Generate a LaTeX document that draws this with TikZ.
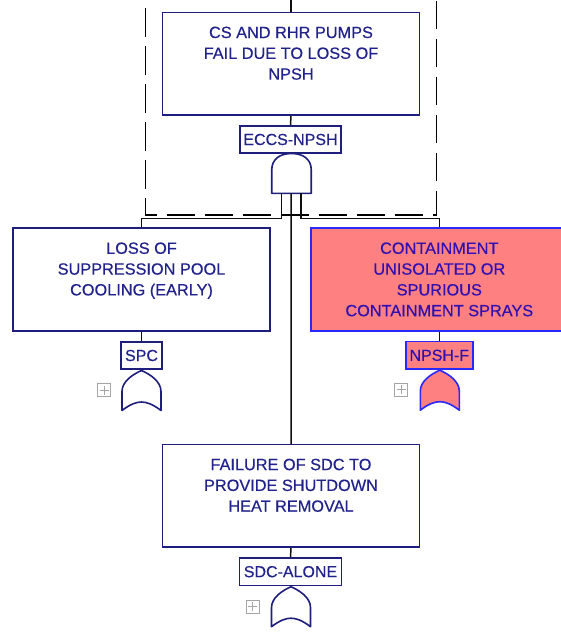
\documentclass[tikz,border=0pt]{standalone}
\usepackage{fontspec}
\setmainfont{Liberation Sans}[FakeBold=0.35]
\usetikzlibrary{calc}

\definecolor{navy}{RGB}{30,30,125}
\definecolor{navytext}{RGB}{34,34,140}
\definecolor{salmon}{RGB}{255,128,128}
\definecolor{brightblue}{RGB}{40,40,255}
\definecolor{violettext}{RGB}{48,16,176}
\definecolor{wirecol}{RGB}{15,15,15}
\definecolor{plusgray}{RGB}{165,165,165}

\tikzset{
  eventbox/.style={draw=navy, line width=1.6pt, fill=white,
    minimum width=257pt, minimum height=102.5pt, inner sep=0pt},
  hotbox/.style={eventbox, draw=brightblue, fill=salmon},
  eventtext/.style={anchor=north, align=center, inner sep=0pt, text=navytext,
    font=\fontsize{16.3}{20.8}\selectfont},
  hottext/.style={eventtext, text=violettext},
  tagbox/.style={draw=navy, line width=1.6pt, fill=white, minimum height=27.5pt,
    inner sep=0pt, text=navytext, font=\fontsize{16}{19}\selectfont},
  hottag/.style={tagbox, draw=brightblue, fill=salmon, text=violettext},
  wire/.style={draw=wirecol, line width=1.5pt},
  gatepath/.style={draw=navy, line width=1.6pt, fill=white, line join=round},
  hotgate/.style={gatepath, draw=brightblue, fill=salmon},
  frame/.style={draw=black, line width=1.4pt, dash pattern=on 28.5pt off 9.5pt,
    dash phase=20pt},
  plusbox/.style={draw=plusgray, line width=0.9pt, minimum size=13pt, inner sep=0pt,
    path picture={
      \draw[plusgray, line width=0.9pt]
        ($(path picture bounding box.center)+(-4.5,0)$) -- ++(9,0)
        ($(path picture bounding box.center)+(0,-4.5)$) -- ++(0,9);
    }},
  pics/andgate/.style={code={
    \path[#1] (-19.75,39.8) -- (-19.75,16.5)
      .. controls (-19.75,5.5) and (-11.5,0) .. (0,0)
      .. controls (11.5,0) and (19.75,5.5) .. (19.75,16.5)
      -- (19.75,39.8) -- cycle;
  }},
  pics/orgate/.style={code={
    \path[#1] (-19.5,40) -- (-19.5,21)
      .. controls (-19.5,11) and (-9,4) .. (0,0)
      .. controls (9,4) and (19.5,11) .. (19.5,21)
      -- (19.5,40)
      .. controls (11,33.5) and (5,31.5) .. (0,31.5)
      .. controls (-5,31.5) and (-11,33.5) .. (-19.5,40) -- cycle;
  }}
}

\begin{document}
\begin{tikzpicture}[x=1pt, y=-1pt]
  \useasboundingbox (0,0) rectangle (561,632);

  % dashed transfer frame around the top event
  \draw[frame] (145.7,-10) -- (145.7,215) -- (436.7,215) -- (436.7,-10);

  % event boxes and their tags
  \node[eventbox] (top) at (291,63.7) {};
  \node[tagbox, minimum width=100.7pt] (eccs) at (290.5,139.5) {ECCS-NPSH};

  \node[eventbox] (loss) at (141.5,279.5) {};
  \node[tagbox, minimum width=41pt] (spc) at (141.5,355.5) {SPC};

  \node[hotbox] (cont) at (439.3,279.5) {};
  \node[hottag, minimum width=67pt] (npshf) at (439.3,355.3) {NPSH-F};

  \node[eventbox] (sdc) at (291,495.8) {};
  \node[tagbox, minimum width=101.7pt] (sdcalone) at (290.5,571.7) {SDC-ALONE};

  % box texts, set from the top edge down
  \node[eventtext] (toptext) at ($(top.north)+(0,14.8)$)
    {CS AND RHR PUMPS\\FAIL DUE TO LOSS OF\\NPSH};
  \node[eventtext] (losstext) at ($(loss.north)+(0,14.8)$)
    {LOSS OF\\SUPPRESSION POOL\\COOLING (EARLY)};
  \node[hottext] (conttext) at ($(cont.north)+(0,14.8)$)
    {CONTAINMENT\\UNISOLATED OR\\SPURIOUS\\CONTAINMENT SPRAYS};
  \node[eventtext] (sdctext) at ($(sdc.north)+(0,14.8)$)
    {FAILURE OF SDC TO\\PROVIDE SHUTDOWN\\HEAT REMOVAL};

  % gates
  \pic at (291.5,153.5) {andgate=gatepath};
  \coordinate (andL) at (281.7,193.3);
  \coordinate (andM) at (291.2,193.3);
  \coordinate (andR) at (300.9,193.3);
  \coordinate (bus) at (0,218.3);

  \pic at (141.5,370.5) {orgate=gatepath};
  \pic at (439.8,370.2) {orgate=hotgate};
  \pic at (291,586.7) {orgate=gatepath};

  % expand markers
  \node[plusbox] (spcplus) at (104,390.3) {};
  \node[plusbox] (npshplus) at (401.3,389.8) {};
  \node[plusbox] (sdcplus) at (252.7,606.7) {};

  % connectors
  \coordinate (topstub) at (291,-5);
  \draw[wire] (top.north) -- (topstub);
  \draw[wire] (top.south) -- (eccs.north);
  \draw[wire] (andL) |- (loss.north |- bus) -- (loss.north);
  \draw[wire] (andR) |- (cont.north |- bus) -- (cont.north);
  \draw[wire] (andM) -- (sdc.north);
  \draw[wire] (loss.south) -- (spc.north);
  \draw[wire] (cont.south) -- (npshf.north);
  \draw[wire] (sdc.south) -- (sdcalone.north);
\end{tikzpicture}
\end{document}
